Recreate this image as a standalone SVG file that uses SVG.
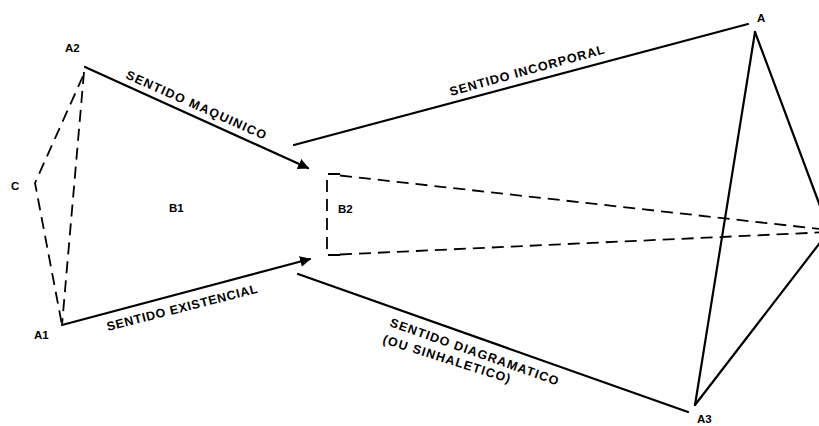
<svg xmlns="http://www.w3.org/2000/svg" width="819" height="426" viewBox="0 0 819 426">
<defs>
<style>
.s{fill:none;stroke:#000;stroke-width:2.2;stroke-linecap:round;stroke-linejoin:round}
.d{fill:none;stroke:#000;stroke-width:1.8;stroke-dasharray:12 7}
.t{font-family:"Liberation Sans",Arial,sans-serif;font-weight:bold;font-size:12.5px;fill:#000}
.l{font-family:"Liberation Sans",Arial,sans-serif;font-weight:bold;font-size:11.5px;fill:#000}
</style>
<marker id="ah" viewBox="0 0 10 10" refX="9" refY="5" markerWidth="5" markerHeight="5" orient="auto" markerUnits="strokeWidth">
<path d="M0,0 L10,5 L0,10 z" fill="#000"/>
</marker>
</defs>
<rect width="819" height="426" fill="#fff"/>
<g id="connectors">
<line class="s" x1="85" y1="67" x2="308" y2="168" marker-end="url(#ah)"/>
<line class="s" x1="62" y1="325" x2="310" y2="259" marker-end="url(#ah)"/>
<line class="s" x1="294" y1="145" x2="748" y2="24"/>
<line class="s" x1="298" y1="274" x2="688" y2="412"/>
<line class="s" x1="755" y1="32" x2="695" y2="405"/>
<line class="s" x1="755" y1="32" x2="829" y2="230"/>
<line class="s" x1="695" y1="405" x2="829" y2="231"/>
<path class="d" d="M83,76 L35,183 L62,325"/>
<line class="d" x1="84" y1="72" x2="62" y2="325"/>
<path class="d" d="M340,174 L327,174 L327,255 L340,255"/>
<line class="d" x1="340" y1="175.5" x2="829" y2="230"/>
<line class="d" x1="340" y1="254.5" x2="829" y2="232"/>
</g>
<g id="node-A2"><text class="l" x="65" y="52">A2</text></g>
<g id="node-C"><text class="l" x="11" y="190">C</text></g>
<g id="node-A1"><text class="l" x="34" y="339">A1</text></g>
<g id="node-B1"><text class="l" x="169" y="212">B1</text></g>
<g id="node-B2"><text class="l" x="338" y="213">B2</text></g>
<g id="node-A"><text class="l" x="757" y="22">A</text></g>
<g id="node-A3"><text class="l" x="697" y="423">A3</text></g>
<g id="labels">
<text class="t" transform="translate(125,78) rotate(24)" textLength="152" lengthAdjust="spacing">SENTIDO  MAQUINICO</text>
<text class="t" transform="translate(451,96) rotate(-15.5)" textLength="160" lengthAdjust="spacing">SENTIDO  INCORPORAL</text>
<text class="t" transform="translate(108,331) rotate(-14.3)" textLength="155" lengthAdjust="spacing">SENTIDO  EXISTENCIAL</text>
<text class="t" transform="translate(389,326) rotate(19.5)" textLength="178" lengthAdjust="spacing">SENTIDO  DIAGRAMATICO</text>
<text class="t" transform="translate(382,343) rotate(17.5)" textLength="133" lengthAdjust="spacing">(OU  SINHALETICO)</text>
</g>
</svg>
